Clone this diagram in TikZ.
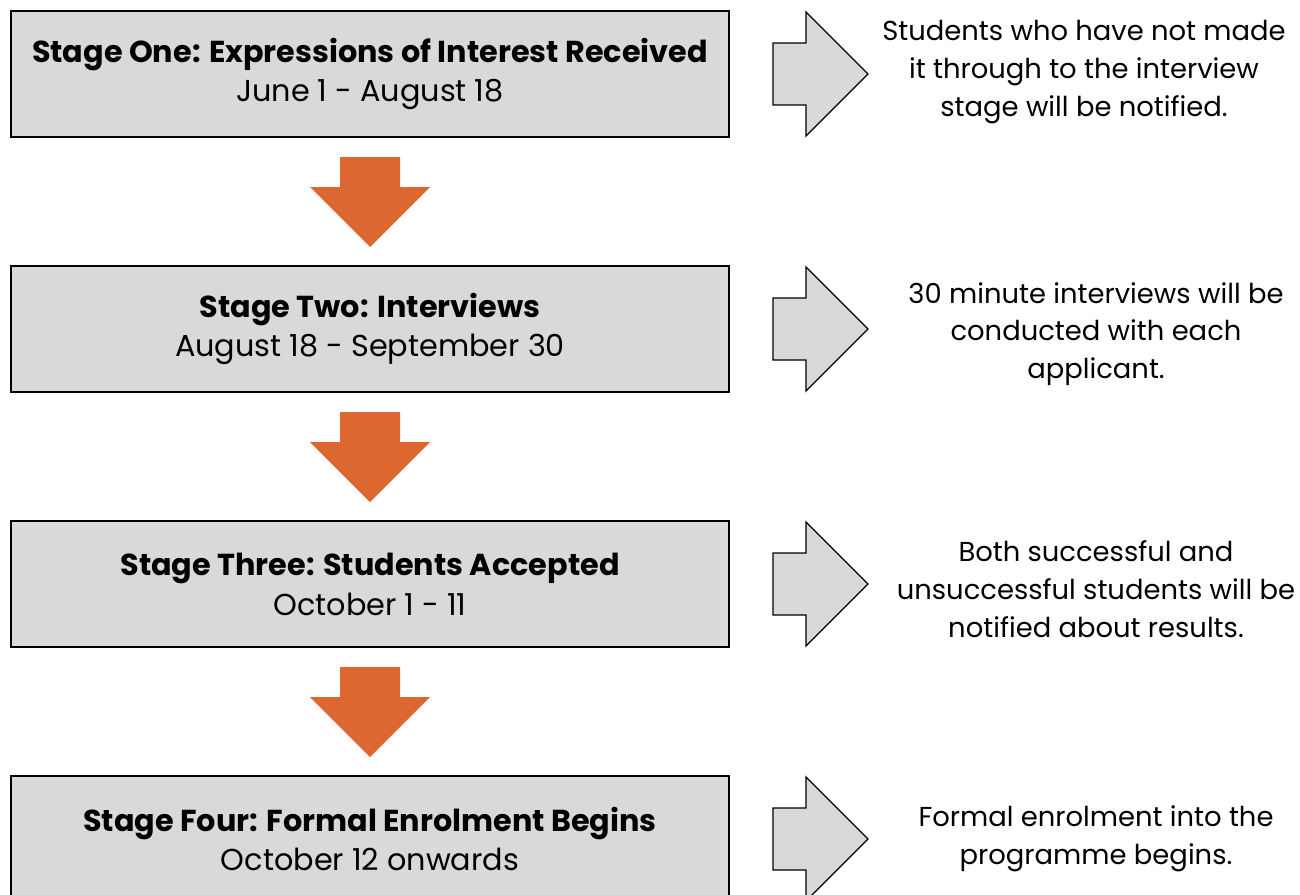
\documentclass[tikz,border=0pt]{standalone}
\usepackage{fontspec}
\setmainfont{Poppins}
\usepackage{tikz}
\usetikzlibrary{positioning}
\definecolor{boxgray}{HTML}{D9D9D9}
\definecolor{downorange}{HTML}{DD6731}
\newcommand{\stagefont}{\fontsize{30.4}{40}\selectfont}
\newcommand{\notefont}{\fontsize{27.5}{38}\selectfont}

\begin{document}
\begin{tikzpicture}[x=1bp,y=-1bp]
    \tikzstyle{stage}=[draw=black, line width=2bp, fill=boxgray, minimum width=718bp, minimum height=126bp, align=center, font=\stagefont]
    \tikzstyle{note}=[align=center, font=\notefont]
    \tikzstyle{down}=[fill=downorange]
    \tikzstyle{side}=[draw=black, line width=1.3bp, fill=boxgray, line join=miter]
    \useasboundingbox (0,0) rectangle (1300,894);

    \node[stage] (s1) at (370,74) {\textbf{Stage One: Expressions of Interest Received}\\June 1 - August 18};
    \node[stage, below=127bp of s1] (s2) {\textbf{Stage Two: Interviews}\\August 18 - September 30};
    \node[stage, below=127bp of s2] (s3) {\textbf{Stage Three: Students Accepted}\\October 1 - 11};
    \node[stage, below=127bp of s3] (s4) {\textbf{Stage Four: Formal Enrolment Begins}\\October 12 onwards};

    \fill[down] ([xshift=-30bp,yshift=-19bp]s1.south) -- ++(60,0) -- ++(0,30) -- ++(30,0) -- ++(-60,60) -- ++(-60,-60) -- ++(30,0) -- cycle;
    \fill[down] ([xshift=-30bp,yshift=-19bp]s2.south) -- ++(60,0) -- ++(0,30) -- ++(30,0) -- ++(-60,60) -- ++(-60,-60) -- ++(30,0) -- cycle;
    \fill[down] ([xshift=-30bp,yshift=-19bp]s3.south) -- ++(60,0) -- ++(0,30) -- ++(30,0) -- ++(-60,60) -- ++(-60,-60) -- ++(30,0) -- cycle;

    \draw[side] ([xshift=43bp,yshift=31bp]s1.east) -- ++(33,0) -- ++(0,-31) -- ++(62,62) -- ++(-62,62) -- ++(0,-31) -- ++(-33,0) -- cycle;
    \draw[side] ([xshift=43bp,yshift=31bp]s2.east) -- ++(33,0) -- ++(0,-31) -- ++(62,62) -- ++(-62,62) -- ++(0,-31) -- ++(-33,0) -- cycle;
    \draw[side] ([xshift=43bp,yshift=31bp]s3.east) -- ++(33,0) -- ++(0,-31) -- ++(62,62) -- ++(-62,62) -- ++(0,-31) -- ++(-33,0) -- cycle;
    \draw[side] ([xshift=43bp,yshift=31bp]s4.east) -- ++(33,0) -- ++(0,-31) -- ++(62,62) -- ++(-62,62) -- ++(0,-31) -- ++(-33,0) -- cycle;

    \node[note] (n1) at (1084,72) {Students who have not made\\it through to the interview\\stage will be notified.};
    \node[note] (n2) at (1096,334) {30 minute interviews will be\\conducted with each\\applicant.};
    \node[note] (n3) at (1096,589) {Both successful and\\unsuccessful students will be\\notified about results.};
    \node[note] (n4) at (1096,839) {Formal enrolment into the\\programme begins.};
\end{tikzpicture}
\end{document}
